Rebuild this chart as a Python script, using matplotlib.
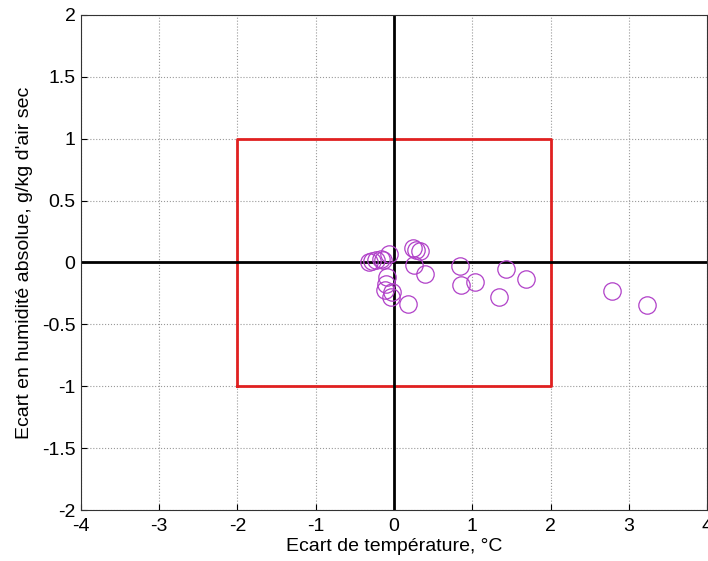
import matplotlib.pyplot as plt

plt.rcParams['font.family'] = ['Liberation Sans', 'DejaVu Sans']

# Ecart de température (°C) et écart d'humidité absolue (g/kg)
dT = [-0.32, -0.28, -0.23, -0.16, -0.14, -0.07,
      0.24, 0.28, 0.33, 0.26, 0.40,
      0.84, 0.85, 1.03, 1.43, 1.69, 1.34,
      -0.09, -0.10, -0.12, -0.02, -0.04, 0.18,
      2.78, 3.23]
dH = [0.00, 0.015, 0.02, 0.03, 0.02, 0.07,
      0.115, 0.10, 0.09, -0.02, -0.09,
      -0.03, -0.18, -0.155, -0.055, -0.135, -0.28,
      -0.115, -0.17, -0.22, -0.24, -0.28, -0.335,
      -0.23, -0.34]

# tolerance box
box_x = [-2, 2, 2, -2, -2]
box_y = [-1, -1, 1, 1, -1]

fig = plt.figure(figsize=(7.08, 5.61), dpi=100)
ax = fig.add_axes([0.1144, 0.0909, 0.8842, 0.8824])

ax.plot(box_x, box_y, color='#e02020', linewidth=2)
ax.axhline(0, color='black', linewidth=2)
ax.axvline(0, color='black', linewidth=2)
ax.plot(dT, dH, 'o', markerfacecolor='none', markeredgecolor='#b040c8',
        markersize=12.5, markeredgewidth=0.9)

ax.set_xlim(-4, 4)
ax.set_ylim(-2, 2)
ax.set_xticks([-4, -3, -2, -1, 0, 1, 2, 3, 4])
ax.set_yticks([-2, -1.5, -1, -0.5, 0, 0.5, 1, 1.5, 2])
ax.set_yticklabels(['-2', '-1.5', '-1', '-0.5', '0', '0.5', '1', '1.5', '2'])
ax.set_xticklabels(['-4', '-3', '-2', '-1', '0', '1', '2', '3', '4'])
ax.tick_params(direction='in', labelsize=14, length=4)
ax.tick_params(axis='x', pad=6)
ax.tick_params(axis='y', pad=4)
ax.grid(True, linestyle=':', color='#999999', linewidth=0.8)
ax.set_axisbelow(True)
for s in ax.spines.values():
    s.set_color('#333333')

ax.set_xlabel('Ecart de température, °C', fontsize=14, labelpad=2)
ax.set_ylabel("Ecart en humidité absolue, g/kg d'air sec", fontsize=14, labelpad=6)

plt.savefig('out.png', dpi=100)
